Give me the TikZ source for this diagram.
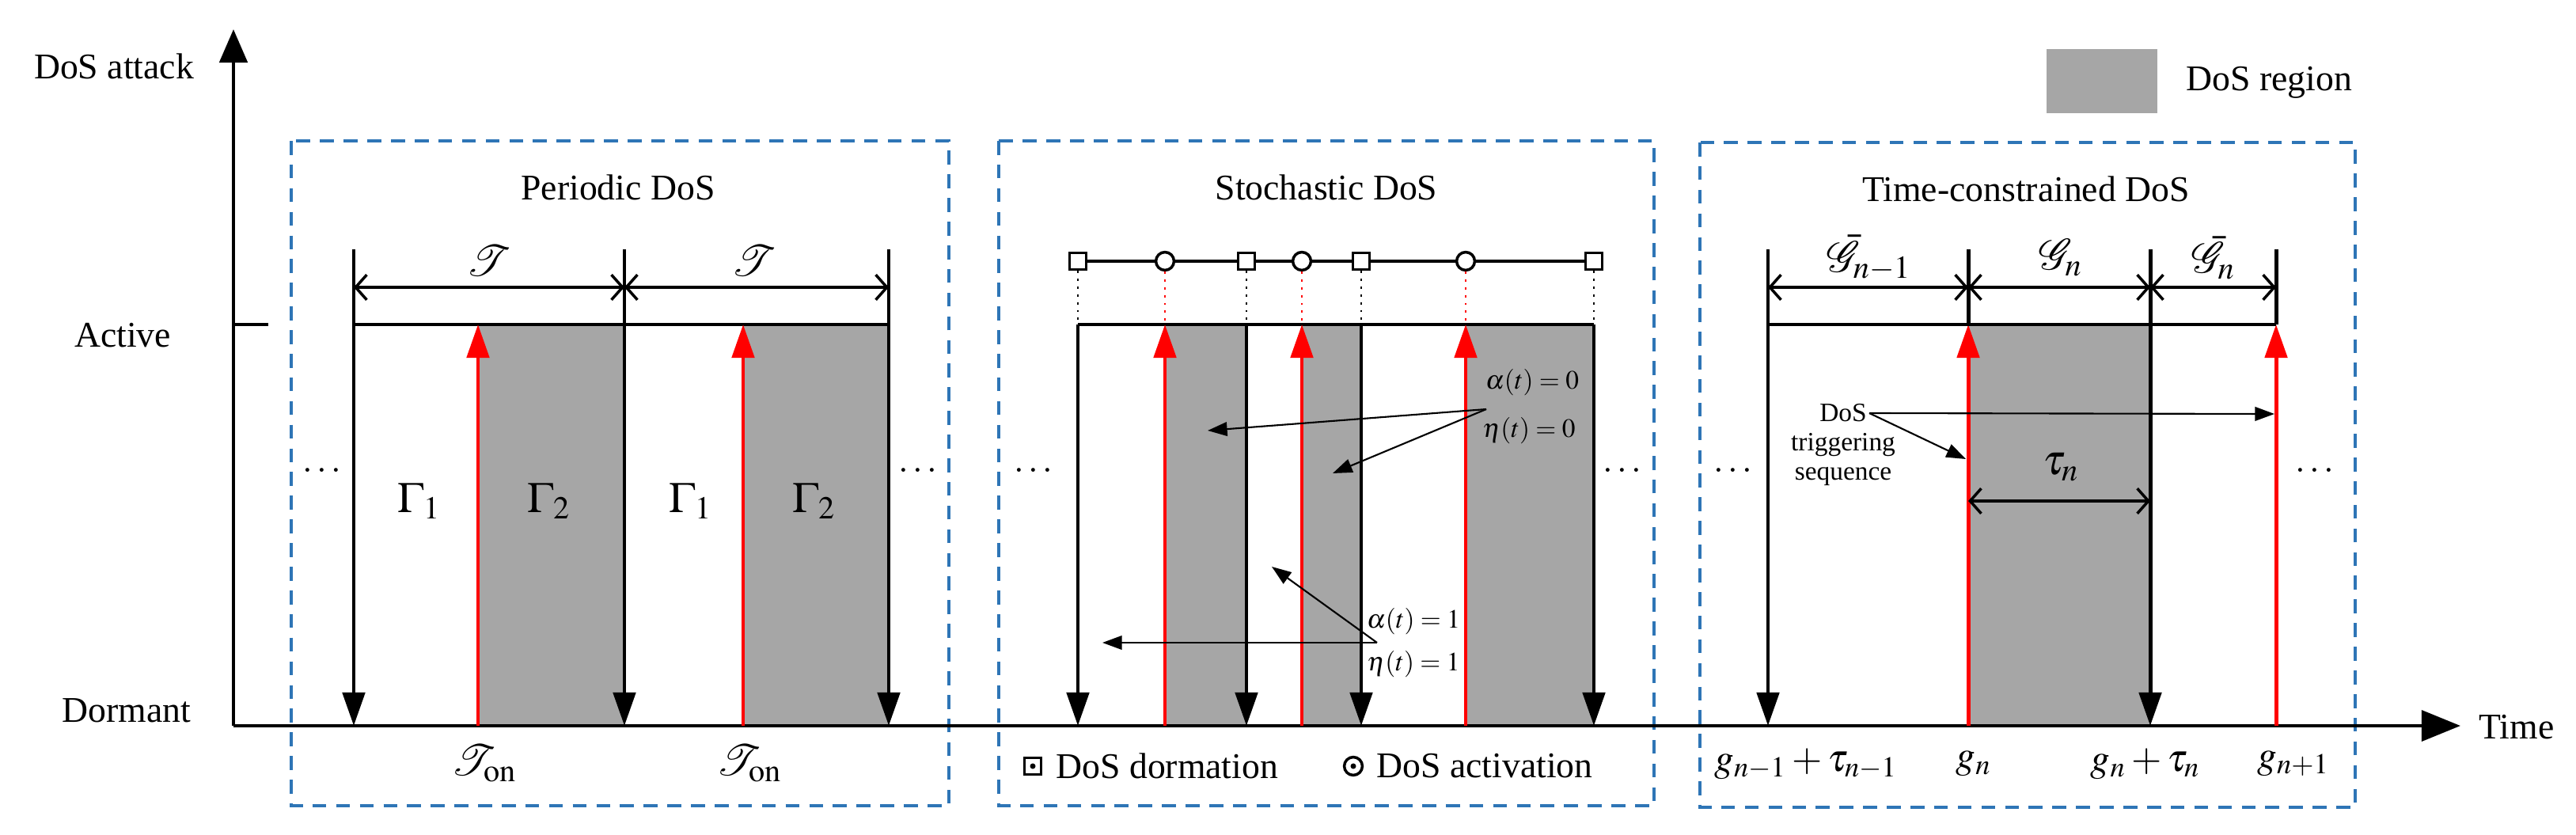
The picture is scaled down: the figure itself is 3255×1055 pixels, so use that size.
\documentclass[tikz,border=0pt]{standalone}
\usepackage{mathptmx}
\usepackage{fontspec}
\setmainfont{Liberation Serif}
\usetikzlibrary{arrows.meta}
\definecolor{dosgray}{RGB}{166,166,166}
\definecolor{boxblue}{RGB}{46,117,182}
\begin{document}
\begin{tikzpicture}[x=0.01cm,y=-0.01cm,
  txt/.style={font=\fontsize{13}{15}\selectfont},
  mtxt/.style={font=\fontsize{15.5}{17}\selectfont},
  btxt/.style={font=\fontsize{14}{16}\selectfont},
  stxt/.style={font=\fontsize{9.5}{10.5}\selectfont,align=center},
  box/.style={draw=boxblue,line width=1pt,dash pattern=on 5pt off 3.5pt},
  region/.style={fill=dosgray,draw=none},
  blk/.style={line width=1.4pt},
  down/.style={blk,-{Triangle[width=8pt,length=12pt]}},
  up/.style={red,line width=1.4pt,-{Triangle[width=8pt,length=12pt]}},
  dim/.style={line width=1pt,{Straight Barb[length=4pt,width=9pt]}-{Straight Barb[length=4pt,width=9pt]}},
  note/.style={line width=0.6pt,-{Triangle[width=5pt,length=7pt]}},
  sq/.style={draw,line width=1pt,fill=white,minimum size=6pt,inner sep=0pt},
  ci/.style={draw,circle,line width=1pt,fill=white,minimum size=6.5pt,inner sep=0pt}]
\useasboundingbox (0,0) rectangle (3255,1055);
% gray regions
\fill[region] (604,410) rectangle (789,917);
\fill[region] (939,410) rectangle (1123,917);
\fill[region] (1472,410) rectangle (1575,917);
\fill[region] (1645,410) rectangle (1720,917);
\fill[region] (1852,410) rectangle (2014,917);
\fill[region] (2487,410) rectangle (2717,917);
% boxes
\draw[box] (368,178) rectangle (1199,1018);
\draw[box] (1262,178) rectangle (2090,1018);
\draw[box] (2148,180) rectangle (2976,1020);
% axes
\coordinate (O) at (295,917);
\coordinate (Ytop) at (295,37);
\coordinate (Xend) at (3109,917);
\draw[blk,-{Triangle[width=10pt,length=12pt]}] (O) -- (Ytop);
\draw[blk,-{Triangle[width=11pt,length=14pt]}] (O) -- (Xend);
\coordinate (ta) at (295,410); \coordinate (tb) at (339,410);
\draw[blk] (ta) -- (tb);
\node[txt] (ylab) at (144,84) {DoS attack};
\node[txt] (act) at (155,424) {Active};
\node[txt] (dor) at (160,898) {Dormant};
\node[txt,anchor=west] (tlab) at (3120,919) {Time};
% legend
\fill[dosgray] (2586,62) rectangle (2726,143);
\node[txt,anchor=west] (legt) at (2750,104) {DoS region};
% ---------------- Panel 1
\node[txt] (p1t) at (781,237) {Periodic DoS};
\foreach \n/\x in {a/447,b/789,c/1123}{
  \coordinate (p1\n t) at (\x,315); \coordinate (p1\n b) at (\x,917);
  \coordinate (p1\n d) at (\x,363);
  \draw[down] (p1\n t) -- (p1\n b);}
\coordinate (p1al) at (447,410); \coordinate (p1cl) at (1123,410);
\draw[blk] (p1al) -- (p1cl);
\draw[dim] (p1ad) -- (p1bd);
\draw[dim] (p1bd) -- (p1cd);
\foreach \n/\x in {a/604,b/939}{
  \coordinate (p1r\n b) at (\x,917); \coordinate (p1r\n t) at (\x,410);
  \draw[up] (p1r\n b) -- (p1r\n t);}
\node[mtxt] (T1) at (618,330) {$\mathcal{T}$};
\node[mtxt] (T2) at (953,330) {$\mathcal{T}$};
\node[mtxt] (Ton1) at (612,965) {$\mathcal{T}_{\mathrm{on}}$};
\node[mtxt] (Ton2) at (947,965) {$\mathcal{T}_{\mathrm{on}}$};
\node[mtxt] (g11) at (530,633) {$\Gamma_1$};
\node[mtxt] (g12) at (694,633) {$\Gamma_2$};
\node[mtxt] (g21) at (873,633) {$\Gamma_1$};
\node[mtxt] (g22) at (1029,633) {$\Gamma_2$};
\node[txt] (d11) at (407,596) {$\cdots$};
\node[txt] (d12) at (1160,596) {$\cdots$};
% ---------------- Panel 2
\node[txt] (p2t) at (1676,237) {Stochastic DoS};
\coordinate (p2l) at (1362,410); \coordinate (p2r) at (2014,410);
\draw[blk] (p2l) -- (p2r);
\coordinate (m0) at (1362,330); \coordinate (m1) at (2014,330);
\draw[line width=1pt] (m0) -- (m1);
\foreach \n/\x in {a/1362,b/1575,c/1720,d/2014}{
  \coordinate (p2\n t) at (\x,410); \coordinate (p2\n b) at (\x,917);
  \draw[down] (p2\n t) -- (p2\n b);
  \coordinate (p2\n u) at (\x,410);
  \node[sq] (s\n) at (\x,330) {};
  \draw[dotted,line width=0.8pt] (s\n) -- (p2\n u);}
\foreach \n/\x in {a/1472,b/1645,c/1852}{
  \coordinate (p2r\n b) at (\x,917); \coordinate (p2r\n t) at (\x,410);
  \draw[up] (p2r\n b) -- (p2r\n t);
  \node[ci] (c\n) at (\x,330) {};
  \draw[dotted,red,line width=0.8pt] (c\n) -- (p2r\n t);}
\node[stxt] (a0) at (1936,483) {$\alpha(t)=0$};
\node[stxt] (e0) at (1932,544) {$\eta(t)=0$};
\coordinate (n0) at (1878,517);
\coordinate (n0a) at (1526,544); \coordinate (n0b) at (1684,598);
\draw[note] (n0) -- (n0a);
\draw[note] (n0) -- (n0b);
\node[stxt] (a1) at (1786,785) {$\alpha(t)=1$};
\node[stxt] (e1) at (1786,839) {$\eta(t)=1$};
\coordinate (n1) at (1740,812);
\coordinate (n1a) at (1393,812); \coordinate (n1b) at (1607,716);
\draw[note] (n1) -- (n1a);
\draw[note] (n1) -- (n1b);
\node[txt] (d21) at (1306,596) {$\cdots$};
\node[txt] (d22) at (2050,596) {$\cdots$};
\node[sq] (lsq) at (1305,968) {};
\fill (lsq.center) circle (1pt);
\node[txt,anchor=west] (lsqt) at (1322,968) {DoS dormation};
\node[ci] (lci) at (1710,968) {};
\fill (lci.center) circle (1pt);
\node[txt,anchor=west] (lcit) at (1727,968) {DoS activation};
% ---------------- Panel 3
\node[txt] (p3t) at (2560,239) {Time-constrained DoS};
\coordinate (q0t) at (2234,315); \coordinate (q0b) at (2234,917);
\draw[down] (q0t) -- (q0b);
\coordinate (q2t) at (2717,315); \coordinate (q2b) at (2717,917);
\draw[down] (q2t) -- (q2b);
\foreach \n/\x in {1/2487,3/2876}{
  \coordinate (q\n t) at (\x,315); \coordinate (q\n a) at (\x,410); \coordinate (q\n b) at (\x,917);
  \draw[blk] (q\n t) -- (q\n a);
  \draw[up] (q\n b) -- (q\n a);}
\coordinate (q0a) at (2234,410); \coordinate (q3a2) at (2876,410);
\draw[blk] (q0a) -- (q3a2);
\coordinate (q0d) at (2234,363); \coordinate (q1d) at (2487,363);
\coordinate (q2d) at (2717,363); \coordinate (q3d) at (2876,363);
\draw[dim] (q0d) -- (q1d);
\draw[dim] (q1d) -- (q2d);
\draw[dim] (q2d) -- (q3d);
\node[mtxt] (G1) at (2362,326) {$\bar{\mathcal{G}}_{n-1}$};
\node[mtxt] (G2) at (2604,326) {$\mathcal{G}_{n}$};
\node[mtxt] (G3) at (2797,326) {$\bar{\mathcal{G}}_{n}$};
\coordinate (tl) at (2487,633); \coordinate (tr) at (2717,633);
\draw[dim] (tl) -- (tr);
\node[mtxt] (tau) at (2604,590) {$\tau_n$};
\node[stxt] (trig) at (2329,562) {DoS\\triggering\\sequence};
\coordinate (tr0) at (2362,522);
\coordinate (tra) at (2874,523); \coordinate (trb) at (2484,580);
\draw[note] (tr0) -- (tra);
\draw[note] (tr0) -- (trb);
\node[txt] (d31) at (2190,596) {$\cdots$};
\node[txt] (d32) at (2925,596) {$\cdots$};
\node[btxt] (b1) at (2282,965) {$g_{n-1}+\tau_{n-1}$};
\node[btxt] (b2) at (2494,965) {$g_{n}$};
\node[btxt] (b3) at (2711,965) {$g_{n}+\tau_{n}$};
\node[btxt] (b4) at (2898,965) {$g_{n+1}$};
\end{tikzpicture}
\end{document}
